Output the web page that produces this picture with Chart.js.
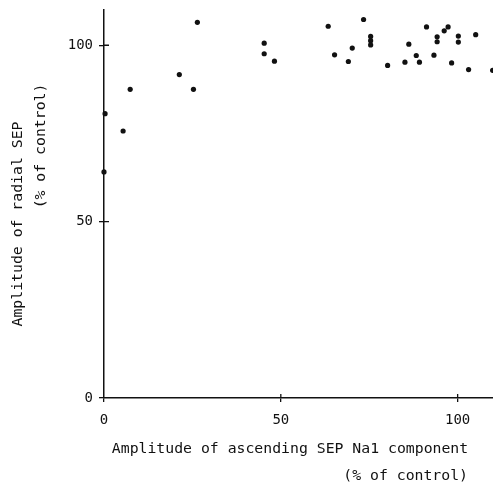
<!DOCTYPE html>
<html>
<head>
<meta charset="utf-8">
<script src="https://cdn.jsdelivr.net/npm/chart.js@4/dist/chart.umd.min.js"></script>
<style>
  html, body { margin: 0; padding: 0; background: #fff; }
</style>
</head>
<body>
<canvas id="canvas" width="493" height="483"></canvas>
<script>
// Values (% of control)
const naAmplitude = [
  0.3, 0, 5.4, 7.4, 21.3, 25.3, 26.4, 45.3, 45.3, 48.2,
  63.4, 65.2, 69.1, 70.2, 73.4, 75.4, 75.4, 75.4, 80.2, 85.1,
  86.2, 88.3, 89.2, 91.2, 93.3, 94.2, 94.2, 96.2, 97.3, 98.3,
  100.2, 100.2, 103.1, 105.1, 109.9
];
const radialAmplitude = [
  80.6, 64.1, 75.7, 87.5, 91.7, 87.5, 106.5, 100.6, 97.6, 95.5,
  105.4, 97.3, 95.4, 99.2, 107.3, 102.5, 101.3, 100.1, 94.3, 95.2,
  100.3, 97.1, 95.2, 105.2, 97.2, 102.4, 101.0, 104.1, 105.2, 95.0,
  102.6, 100.9, 93.1, 103.0, 92.9
];
const xTicks = [0, 50, 100];
const yTicks = [0, 50, 100];
const xTitle = ['Amplitude of ascending SEP Na1 component', '(% of control)'];
const yTitle = ['Amplitude of radial SEP', '(% of control)'];

const ink = '#111';
const mono = "'DejaVu Sans Mono', 'Liberation Mono', monospace";

// short tick stubs inside the plot plus the axis titles
const decor = {
  id: 'decor',
  afterDraw(chart) {
    const ctx = chart.ctx;
    const xs = chart.scales.x, ys = chart.scales.y;
    ctx.save();
    ctx.strokeStyle = ink;
    ctx.lineWidth = 1.3;
    ctx.beginPath();
    xTicks.slice(1).forEach(v => {
      const px = xs.getPixelForValue(v);
      ctx.moveTo(px, ys.bottom); ctx.lineTo(px, ys.bottom - 4);
    });
    yTicks.slice(1).forEach(v => {
      const py = ys.getPixelForValue(v);
      ctx.moveTo(xs.left, py); ctx.lineTo(xs.left + 5, py);
    });
    ctx.stroke();

    ctx.fillStyle = ink;
    ctx.font = '14.8px ' + mono;
    ctx.textBaseline = 'middle';
    ctx.textAlign = 'center';
    ctx.fillText(xTitle[0], 290, 449);
    ctx.textAlign = 'right';
    ctx.fillText(xTitle[1], 468, 476);

    ctx.translate(18, 224);
    ctx.rotate(-Math.PI / 2);
    ctx.textAlign = 'center';
    ctx.fillText(yTitle[0], 0, 0);
    ctx.restore();

    ctx.save();
    ctx.fillStyle = ink;
    ctx.font = '14.8px ' + mono;
    ctx.textBaseline = 'middle';
    ctx.textAlign = 'center';
    ctx.translate(41, 146);
    ctx.rotate(-Math.PI / 2);
    ctx.fillText(yTitle[1], 0, 0);
    ctx.restore();
  }
};

function createVisualization() {
  const ctx = document.getElementById('canvas').getContext('2d');

  new Chart(ctx, {
    type: 'scatter',
    data: {
      datasets: [{
        data: naAmplitude.map((x, i) => ({ x: x, y: radialAmplitude[i] })),
        backgroundColor: ink,
        borderColor: ink,
        pointRadius: 2.6,
        pointHoverRadius: 2.6,
        borderWidth: 0,
        clip: 6
      }]
    },
    options: {
      responsive: false,
      animation: false,
      layout: { autoPadding: false, padding: { top: 10, right: 0, left: 0, bottom: 0 } },
      scales: {
        x: {
          type: 'linear',
          min: 0,
          max: 110,
          afterBuildTicks: s => { s.ticks = xTicks.map(v => ({ value: v })); },
          afterFit: s => { s.height = 85; s.paddingLeft = 0; s.paddingRight = 0; },
          border: { color: ink, width: 1.5 },
          grid: { drawOnChartArea: false, color: ink, tickLength: 4, lineWidth: 1.3 },
          ticks: {
            color: ink,
            font: { family: mono, size: 14 },
            padding: 10,
            maxRotation: 0,
            autoSkip: false
          }
        },
        y: {
          type: 'linear',
          min: 0,
          max: 110,
          afterBuildTicks: s => { s.ticks = yTicks.map(v => ({ value: v })); },
          afterFit: s => { s.width = 104; s.paddingTop = 0; s.paddingBottom = 0; },
          border: { color: ink, width: 1.5 },
          grid: { drawOnChartArea: false, color: ink, tickLength: 5, lineWidth: 1.3 },
          ticks: {
            color: ink,
            font: { family: mono, size: 14 },
            padding: 6,
            autoSkip: false
          }
        }
      },
      plugins: {
        legend: { display: false },
        tooltip: { enabled: false }
      }
    },
    plugins: [decor]
  });
}

createVisualization();
</script>
</body>
</html>
